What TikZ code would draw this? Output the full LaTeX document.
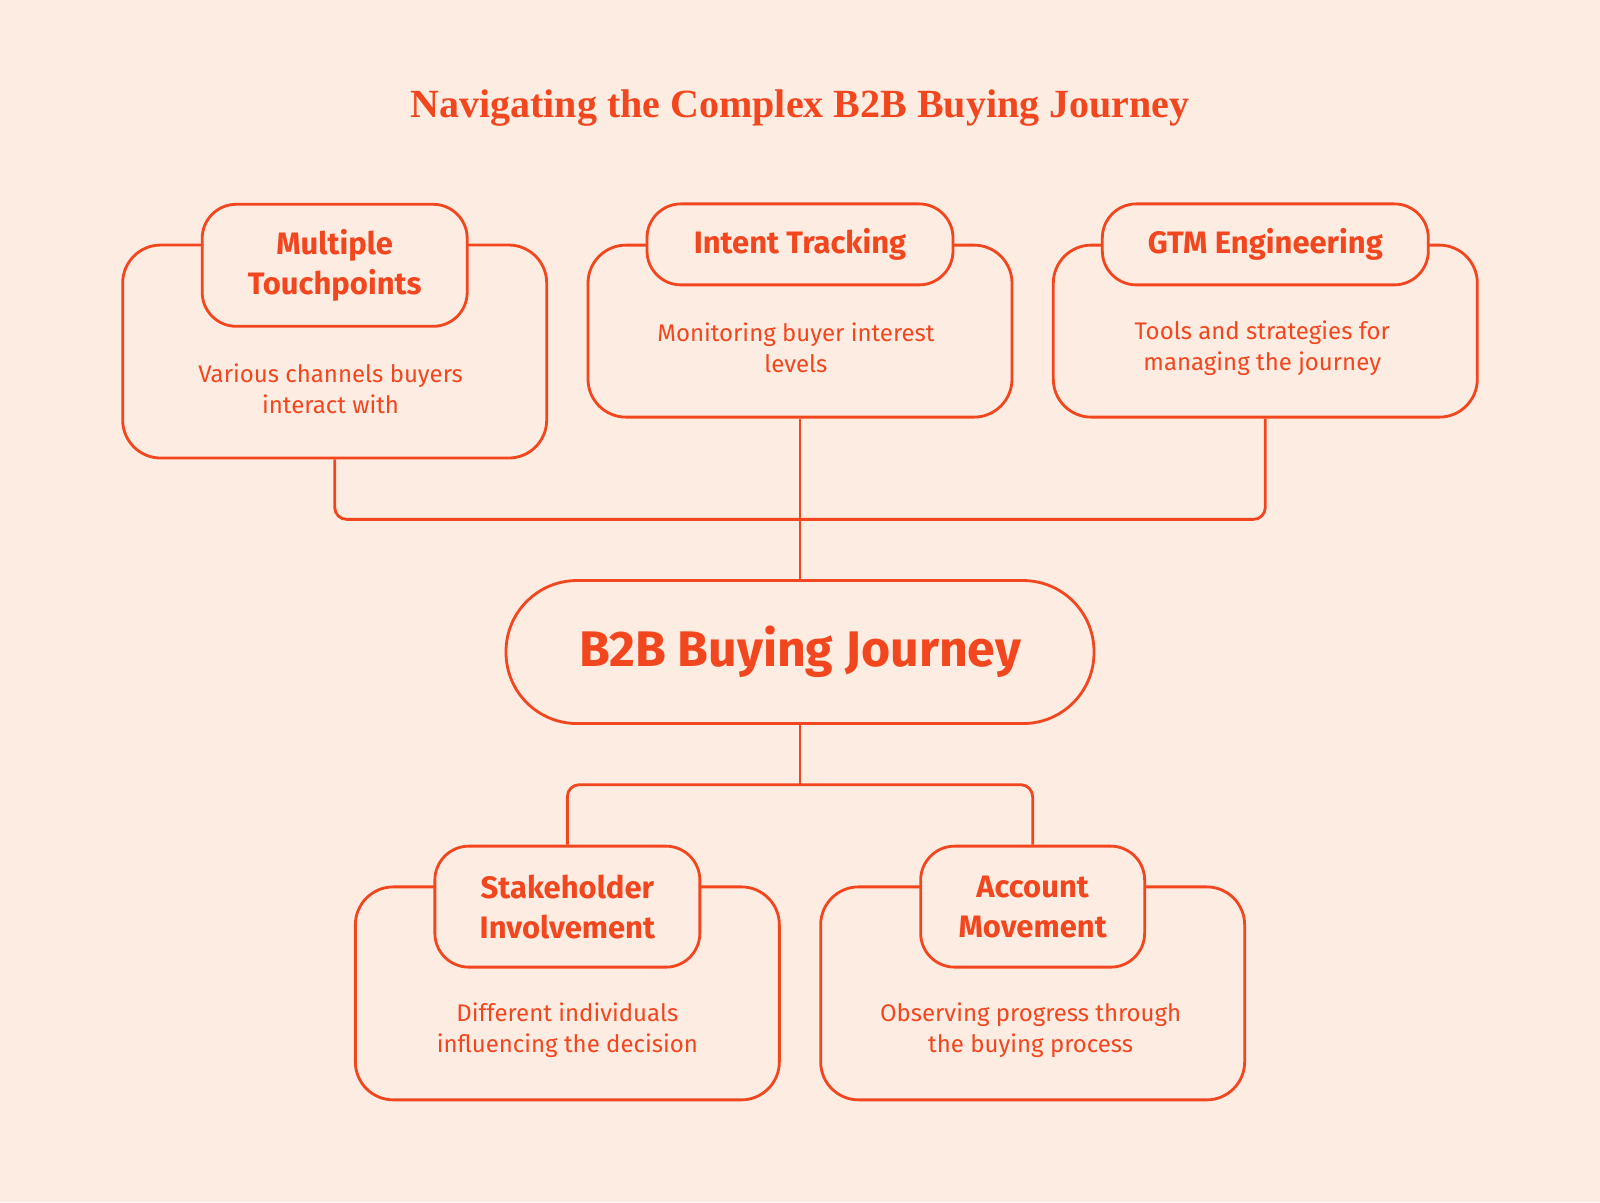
\documentclass[tikz,border=0pt]{standalone}
\usepackage{fontspec}
\setmainfont{Fira Sans}
\newfontfamily\titlefont{Liberation Serif}
\definecolor{bg}{HTML}{FDECE2}
\definecolor{acc}{HTML}{F2461F}
\begin{document}
\begin{tikzpicture}[x=1.0204pt,y=-1.0204pt,
  box/.style={draw=acc,line width=2.8pt,rounded corners=38pt,fill=bg,inner sep=0pt},
  tab/.style={draw=acc,line width=2.8pt,rounded corners=34pt,fill=bg,inner sep=0pt,
     font=\fontsize{31}{40}\selectfont\bfseries,text=acc,align=center},
  desc/.style={font=\fontsize{24}{31}\selectfont,text=acc,align=center},
  conn/.style={draw=acc,line width=2.8pt,rounded corners=12pt}]
\fill[bg] (0,0) rectangle (1568,1178);
\node[font=\titlefont\fontsize{40}{46}\selectfont\bfseries,text=acc] (title) at (784,106) {Navigating the Complex B2B Buying Journey};
\node[box,minimum width=424pt,minimum height=213pt] (b1) at (328,344.5) {};
\node[box,minimum width=424pt,minimum height=172pt] (b2) at (784,324.5) {};
\node[box,minimum width=424pt,minimum height=172pt] (b3) at (1240,324.5) {};
\node[box,minimum width=424pt,minimum height=213pt] (b4) at (556,973.5) {};
\node[box,minimum width=424pt,minimum height=213pt] (b5) at (1012,973.5) {};
\node[tab,minimum width=265pt,minimum height=122pt] (t1) at (328,260) {Multiple\\Touchpoints};
\node[tab,minimum width=306pt,minimum height=81pt] (t2) at (784,239.5) {Intent Tracking};
\node[tab,minimum width=326pt,minimum height=81pt] (t3) at (1240,239.5) {GTM Engineering};
\node[tab,minimum width=265pt,minimum height=121pt] (t4) at (556,888.5) {Stakeholder\\Involvement};
\node[tab,minimum width=224pt,minimum height=121pt] (t5) at (1012,888.5) {Account\\Movement};
\node[desc] (d1) at (324,381) {Various channels buyers\\interact with};
\node[desc] (d2) at (780,341) {Monitoring buyer interest\\levels};
\node[desc] (d3) at (1237,341) {Tools and strategies for\\managing the journey};
\node[desc] (d4) at (556,1010) {Different individuals\\influencing the decision};
\node[desc] (d5) at (1010,1010) {Observing progress through\\the buying process};
\node[draw=acc,line width=2.8pt,rounded corners=71pt,fill=bg,minimum width=588pt,minimum height=143pt,
  font=\fontsize{50}{58}\selectfont\bfseries,text=acc] (c) at (784,639) {B2B Buying Journey};
\coordinate (k) at (784,769);
\draw[conn] (b1.south) -- (328,509) -- (1240,509) -- (b3.south);
\draw[conn] (b2.south) -- (c.north);
\draw[conn] (c.south) -- (k);
\draw[conn] (t4.north) -- (556,769) -- (1012,769) -- (t5.north);
\end{tikzpicture}
\end{document}
